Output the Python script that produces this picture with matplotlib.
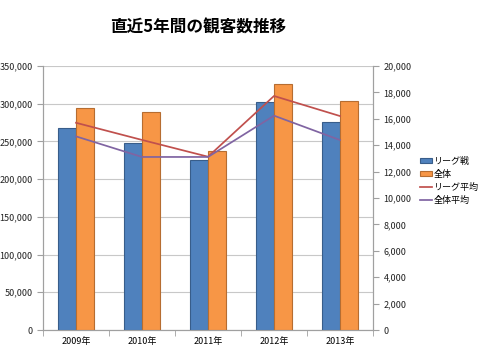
import matplotlib
matplotlib.use("Agg")
import matplotlib.pyplot as plt
import numpy as np
from matplotlib.ticker import FuncFormatter, MultipleLocator, FixedLocator

plt.rcParams['font.family'] = ['Noto Sans CJK JP', 'DejaVu Sans']

years = ['2009年', '2010年', '2011年', '2012年', '2013年']
league_total = [268000, 248000, 225000, 302000, 276000]
all_total = [294000, 289000, 237000, 326000, 304000]
league_avg = [15700, 14400, 13130, 17730, 16210]
all_avg = [14670, 13110, 13110, 16240, 14390]

fig = plt.figure(figsize=(4.8, 3.6), dpi=100)
ax = fig.add_axes([0.0896, 0.0833, 0.6875, 0.7333])
ax2 = ax.twinx()

x = np.arange(len(years))
w = 0.277
b1 = ax.bar(x - w/2, league_total, w, color='#4F81BD', edgecolor='#385D8A', linewidth=0.8, label='リーグ戦', zorder=3)
b2 = ax.bar(x + w/2, all_total, w, color='#F79646', edgecolor='#B66D31', linewidth=0.8, label='全体', zorder=3)
l1, = ax2.plot(x, league_avg, color='#C0504D', lw=1.25, label='リーグ平均')
l2, = ax2.plot(x, all_avg, color='#8064A2', lw=1.25, label='全体平均')

ax.set_xlim(-0.5, 4.5)
ax.set_ylim(0, 350000)
ax2.set_ylim(0, 20000)
ax.yaxis.set_major_locator(MultipleLocator(50000))
ax2.yaxis.set_major_locator(MultipleLocator(2000))
fmt = FuncFormatter(lambda v, p: f'{int(v):,}')
ax.yaxis.set_major_formatter(fmt)
ax2.yaxis.set_major_formatter(fmt)
ax.set_xticks(x)
ax.set_xticklabels(years)
ax.xaxis.set_minor_locator(FixedLocator(np.arange(-0.5, 5.0, 1.0)))
ax.tick_params(axis='x', which='major', length=0, labelsize=6.5, pad=5, colors='#000000')
ax.tick_params(axis='x', which='minor', length=4, color='#A0A0A0', direction='out')
ax.tick_params(axis='y', length=4, color='#A0A0A0', labelsize=6.5, labelcolor='#222222')
ax2.tick_params(axis='y', length=4, color='#A0A0A0', labelsize=6.5, labelcolor='#222222')

ax.grid(axis='y', color='#C8C8C8', lw=0.8, zorder=0)
ax.set_axisbelow(True)
for a in (ax, ax2):
    a.spines['top'].set_visible(False)
    for s in ('left', 'right', 'bottom'):
        a.spines[s].set_color('#A0A0A0')
        a.spines[s].set_linewidth(0.8)

ax.set_zorder(1)
ax.patch.set_visible(False)
ax2.set_zorder(2)

fig.legend([b1, b2, l1, l2], ['リーグ戦', '全体', 'リーグ平均', '全体平均'],
           loc='center left', bbox_to_anchor=(0.868, 0.498), frameon=False,
           fontsize=6.5, handlelength=1.3, handleheight=0.6, handletextpad=0.15,
           labelspacing=0.45, borderaxespad=0)

fig.text(0.412, 0.922, '直近5年間の観客数推移', ha='center', va='center',
         fontsize=12, fontweight='bold')

fig.savefig('out.png', dpi=100)
